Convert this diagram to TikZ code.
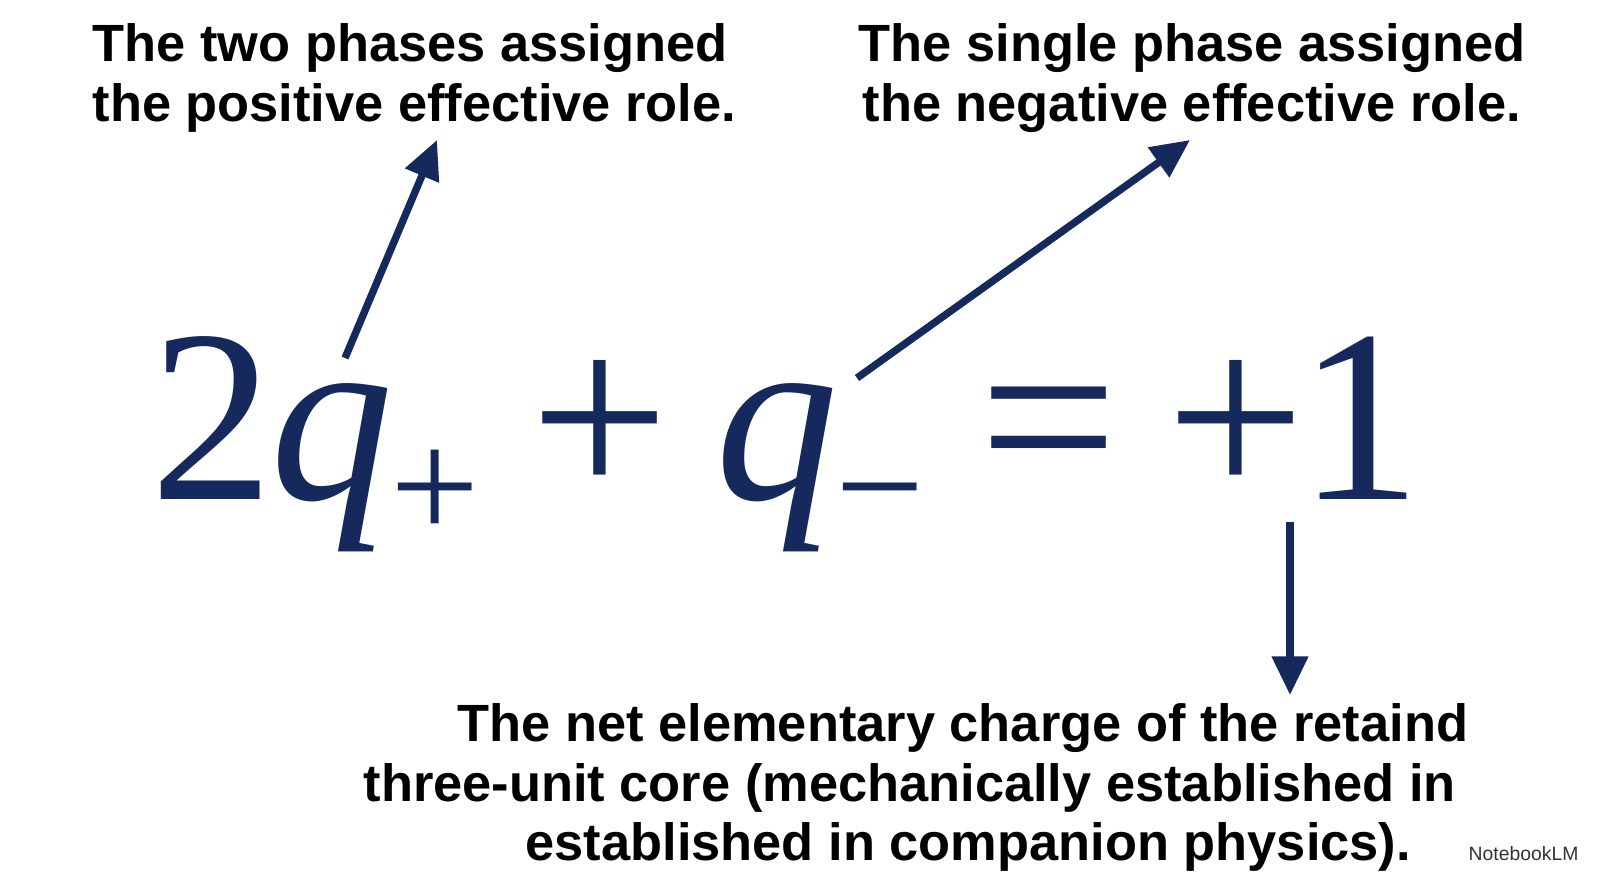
\documentclass[tikz,border=0pt]{standalone}
\usepackage{fontspec}
\setmainfont{Liberation Serif}
\setsansfont{Liberation Sans}
\usetikzlibrary{arrows.meta}
\definecolor{navy}{HTML}{15295C}
\tikzset{
  note/.style={font=\sffamily\bfseries\fontsize{14.9}{17}\selectfont,anchor=base west,inner sep=0pt},
  eq/.style={text=navy,anchor=base,inner sep=0pt,font=\fontsize{70}{72}\selectfont},
  sub/.style={text=navy,anchor=base,inner sep=0pt,font=\fontsize{45}{46}\selectfont},
  pointer/.style={navy,line width=2.1pt,-{Triangle[length=11pt,width=10pt]}}
}
\begin{document}
\begin{tikzpicture}[x=0.01cm,y=-0.01cm]
\useasboundingbox[fill=white] (0,0) rectangle (1600,892);
% labels
\node[note] (pos1) at (92,62) {The two phases assigned};
\node[note] (pos2) at (92,122) {the positive effective role.};
\node[note] (neg1) at (858,62) {The single phase assigned};
\node[note] (neg2) at (862,122) {the negative effective role.};
\node[note] (net1) at (457,742) {The net elementary charge of the retaind};
\node[note] (net2) at (363,802) {three-unit core (mechanically established in};
\node[note] (net3) at (525,860) {established in companion physics).};
\node[anchor=base west,inner sep=0pt,font=\sffamily\fontsize{5.5}{6}\selectfont,text=black!80] (mark) at (1468,861) {NotebookLM};
% equation
\node[eq] (two) at (212,500) {2};
\node[eq] (qp) at (332,500) {\textit{q}};
\node[sub] (plus) at (435,540) {+};
\node[eq] (add) at (600,500) {+};
\node[eq] (qm) at (777,500) {\textit{q}};
\node[sub] (minus) at (880,540) {−};
\node[eq] (equal) at (1049,500) {=};
\node[eq] (sign) at (1236,500) {+};
\node[eq] (one) at (1360,500) {1};
% pointers
\coordinate (a1) at (345,358);
\coordinate (a2) at (437,140);
\coordinate (b1) at (857,378);
\coordinate (b2) at (1190,140);
\coordinate (c1) at (1290,522);
\coordinate (c2) at (1290,695);
\draw[pointer] (a1) -- (a2);
\draw[pointer] (b1) -- (b2);
\draw[pointer] (c1) -- (c2);
\end{tikzpicture}
\end{document}
